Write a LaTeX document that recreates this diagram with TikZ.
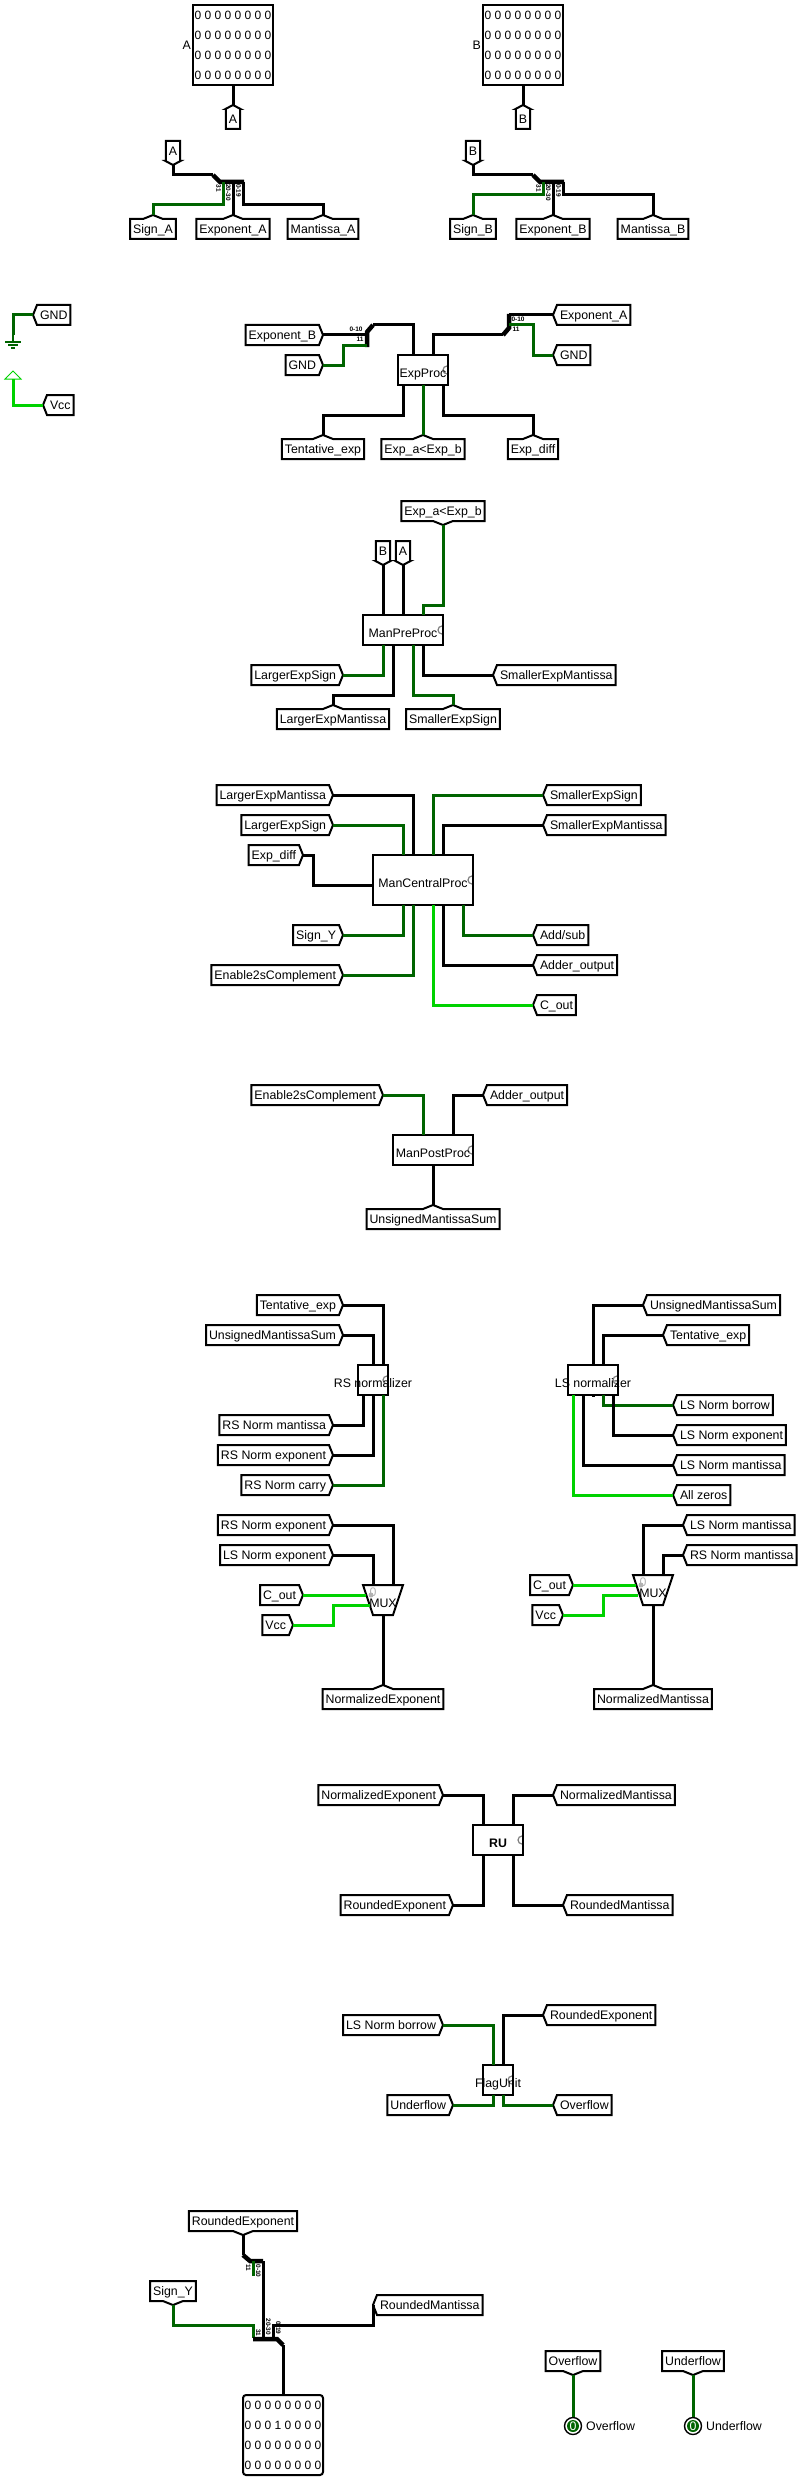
\documentclass[tikz,border=0pt]{standalone}
\usepackage{fontspec}
\setmainfont{Liberation Sans}
\usepackage{xcolor}
\usetikzlibrary{calc,positioning}
\definecolor{lowgreen}{RGB}{0,100,0}
\definecolor{highgreen}{RGB}{0,210,0}
\newcommand{\blocktext}[1]{\raisebox{-7.3pt}[0pt][0pt]{\makebox[0pt]{#1}}}
\begin{document}
\begin{tikzpicture}[
  x=1pt, y=-1pt,
  font=\fontsize{12.35}{14}\selectfont,
  tunline/.style={draw=black, line width=2pt},
  tunbase/.style={inner sep=0pt, inner xsep=3pt, outer sep=0pt, minimum height=20pt, text height=8.6pt, text depth=0pt},
  tunE/.style={tunbase, outer xsep=4pt, anchor=east, append after command={\pgfextra{\draw[tunline] ([xshift=4pt]\tikzlastnode.north west) -- ([xshift=-4pt]\tikzlastnode.north east) -- (\tikzlastnode.east) -- ([xshift=-4pt]\tikzlastnode.south east) -- ([xshift=4pt]\tikzlastnode.south west) -- cycle;}}},
  tunW/.style={tunbase, outer xsep=4pt, anchor=west, append after command={\pgfextra{\draw[tunline] ([xshift=-4pt]\tikzlastnode.north east) -- ([xshift=4pt]\tikzlastnode.north west) -- (\tikzlastnode.west) -- ([xshift=4pt]\tikzlastnode.south west) -- ([xshift=-4pt]\tikzlastnode.south east) -- cycle;}}},
  tunN/.default=10pt,
  tunN/.style={tunbase, outer ysep=4pt, anchor=north, append after command={\pgfextra{\draw[tunline] ([yshift=-4pt]\tikzlastnode.north west) -- ([xshift=-#1,yshift=-4pt]\tikzlastnode.north) -- (\tikzlastnode.north) -- ([xshift=#1,yshift=-4pt]\tikzlastnode.north) -- ([yshift=-4pt]\tikzlastnode.north east) -- ([yshift=4pt]\tikzlastnode.south east) -- ([yshift=4pt]\tikzlastnode.south west) -- cycle;}}},
  tunS/.default=10pt,
  tunS/.style={tunbase, outer ysep=4pt, anchor=south, append after command={\pgfextra{\draw[tunline] ([yshift=4pt]\tikzlastnode.south west) -- ([xshift=-#1,yshift=4pt]\tikzlastnode.south) -- (\tikzlastnode.south) -- ([xshift=#1,yshift=4pt]\tikzlastnode.south) -- ([yshift=4pt]\tikzlastnode.south east) -- ([yshift=-4pt]\tikzlastnode.north east) -- ([yshift=-4pt]\tikzlastnode.north west) -- cycle;}}},
  block/.style={draw, line width=2pt, inner sep=0pt, outer sep=0pt, minimum height=30pt, append after command={\pgfextra{\draw[gray, line width=1.2pt] ([xshift=-1pt,yshift=4pt]\tikzlastnode.east) arc[start angle=90, end angle=270, radius=4pt];}}},
  muxblock/.style={inner sep=0pt, outer sep=0pt, minimum width=40pt, minimum height=30pt, append after command={\pgfextra{\draw[tunline] (\tikzlastnode.north west) -- (\tikzlastnode.north east) -- ([xshift=-10pt]\tikzlastnode.south east) -- ([xshift=10pt]\tikzlastnode.south west) -- cycle;}}},
  selmark/.style={inner sep=0pt, text=gray!60},
  pinbox/.style={draw, line width=2pt, minimum size=80pt, inner sep=0pt, outer sep=0pt, align=center, font=\fontsize{12}{20}\selectfont},
  led/.style={circle, fill=lowgreen, text=white, minimum size=12pt, inner sep=0pt, outer sep=3pt, append after command={\pgfextra{\draw[black, line width=1.4pt] (\tikzlastnode.center) circle[radius=8.5pt];}}},
  plain/.style={inner sep=0pt},
  bitlab/.style={inner sep=0pt, font=\fontsize{6.5}{7}\selectfont\bfseries},
  wire/.style={draw=black, line width=3pt},
  lowwire/.style={draw=lowgreen, line width=3pt},
  highwire/.style={draw=highgreen, line width=3pt},
  spine/.style={draw=black, line width=4.5pt}
]
\useasboundingbox (0,0) rectangle (799,2480);

\node[pinbox] (pina) at (233,45) {0 0 0 0 0 0 0 0\\0 0 0 0 0 0 0 0\\0 0 0 0 0 0 0 0\\0 0 0 0 0 0 0 0};
\node[plain, left=2pt of pina] (pinalab) {A};
\node[tunN=7.5pt, below=20pt of pina] (tunpa) {A};
\node[pinbox] (pinb) at (523,45) {0 0 0 0 0 0 0 0\\0 0 0 0 0 0 0 0\\0 0 0 0 0 0 0 0\\0 0 0 0 0 0 0 0};
\node[plain, left=2pt of pinb] (pinblab) {B};
\node[tunN=7.5pt, below=20pt of pinb] (tunpb) {B};
\draw[wire] (pina) -- (tunpa.north);
\draw[wire] (pinb) -- (tunpb.north);

\coordinate (spa) at (213,175);
\node[tunS=7.5pt, left=40pt of spa, anchor=south, yshift=10pt] (tuna) {A};
\node[tunN, below=40pt of spa, xshift=-60pt] (signa) {Sign\_A};
\node[tunN, below=40pt of spa, xshift=20pt] (expona) {Exponent\_A};
\node[tunN, below=40pt of spa, xshift=110pt] (manta) {Mantissa\_A};
\draw[wire] (tuna.south) |- (spa);
\draw[spine] (spa) -- ++(7,7) -- ++(24,0);
\draw[lowwire] (spa) ++(10,7) -- ++(0,23) -| (signa.north);
\draw[wire] (spa) ++(20,7) -- (expona.north);
\draw[wire] (spa) ++(30,7) -- ++(0,23) -| (manta.north);
\node[bitlab, rotate=-90] (la31) at ($(spa)+(5.6,13.3)$) {31};
\node[bitlab, rotate=-90] (la20) at ($(spa)+(15.4,17.7)$) {20-30};
\node[bitlab, rotate=-90] (la00) at ($(spa)+(25.5,15.7)$) {0-19};

\coordinate (spb) at (533,175);
\node[tunS=7.5pt, left=60pt of spb, anchor=south, yshift=10pt] (tunb) {B};
\node[tunN, below=40pt of spb, xshift=-60pt] (signb) {Sign\_B};
\node[tunN, below=40pt of spb, xshift=20pt] (exponb) {Exponent\_B};
\node[tunN, below=40pt of spb, xshift=120pt] (mantb) {Mantissa\_B};
\draw[wire] (tunb.south) |- (spb);
\draw[spine] (spb) -- ++(7,7) -- ++(24,0);
\draw[lowwire] (spb) ++(10,7) -- ++(0,13) -| (signb.north);
\draw[wire] (spb) ++(20,7) -- (exponb.north);
\draw[wire] (spb) ++(30,7) -- ++(0,13) -| (mantb.north);
\node[bitlab, rotate=-90] (lb31) at ($(spb)+(5.6,13.3)$) {31};
\node[bitlab, rotate=-90] (lb20) at ($(spb)+(15.4,17.7)$) {20-30};
\node[bitlab, rotate=-90] (lb00) at ($(spb)+(25.5,15.7)$) {0-19};

\coordinate (gndsym) at (13,335);
\coordinate (vccsym) at (13,379);
\node[tunW] (gnd0) at (33,315) {GND};
\node[tunW] (vcc0) at (43,405) {Vcc};
\draw[lowwire] (gnd0.west) -| (gndsym);
\draw[draw=lowgreen, line width=1.2pt] (gndsym) -- ++(0,7) ++(-8,0) -- ++(16,0) ++(-13,3) -- ++(10,0) ++(-7,3) -- ++(4,0);
\draw[highwire] (vcc0.west) -| (vccsym);
\draw[draw=highgreen, line width=1pt] (vccsym) ++(-8,0) -- ++(8,-8) -- ++(8,8) -- cycle;

\node[block, minimum width=50pt] (exp) at (423,370) {\blocktext{ExpProc}};
\node[tunE, left=100pt of exp.north, yshift=20pt] (expb) {Exponent\_B};
\node[tunE, left=100pt of exp.north, yshift=-10pt] (gnd1) {GND};
\node[tunW, right=130pt of exp.north, yshift=40pt] (expa) {Exponent\_A};
\node[tunW, right=130pt of exp.north] (gnd2) {GND};
\node[tunN, below=50pt of exp.south, xshift=-100pt] (tent) {Tentative\_exp};
\node[tunN, below=50pt of exp.south] (lt) {Exp\_a<Exp\_b};
\node[tunN, below=50pt of exp.south, xshift=110pt] (diff) {Exp\_diff};
\coordinate (spl) at (373,325);
\coordinate (spr) at (503,335);
\draw[spine] (spl) -- ++(-6,7) -- ++(0,15);
\draw[wire] (spl) -| ([xshift=-10pt]exp.north);
\draw[wire] (expb.east) -- ++(44,0);
\draw[lowwire] (gnd1.east) -- ++(20,0) -- ++(0,-20) -- ++(24,0);
\draw[spine] (spr) -- ++(6,-7) -- ++(0,-14);
\draw[wire] (spr) -| ([xshift=10pt]exp.north);
\draw[wire] (expa.west) -- ++(-44,0);
\draw[lowwire] (gnd2.west) -- ++(-20,0) -- ++(0,-30) -- ++(-24,0);
\draw[wire] ([xshift=-20pt]exp.south) -- ++(0,30) -| (tent.north);
\draw[lowwire] (exp.south) -- (lt.north);
\draw[wire] ([xshift=20pt]exp.south) -- ++(0,30) -| (diff.north);
\node[bitlab] (ll00) at ($(spl)+(-17,4.3)$) {0-10};
\node[bitlab] (ll11) at ($(spl)+(-13,14.3)$) {11};
\node[bitlab] (lr00) at ($(spr)+(15,-15.7)$) {0-10};
\node[bitlab] (lr11) at ($(spr)+(13,-6)$) {11};

\node[block, minimum width=80pt] (pre) at (403,630) {\blocktext{ManPreProc}};
\node[tunS, above=90pt of pre.north, xshift=40pt] (ltp) {Exp\_a<Exp\_b};
\node[tunS=7.5pt, above=50pt of pre.north, xshift=-20pt] (bp) {B};
\node[tunS=7.5pt, above=50pt of pre.north] (ap) {A};
\node[tunE, left=60pt of pre.south, yshift=-30pt] (les) {LargerExpSign};
\node[tunN, below=60pt of pre.south, xshift=-70pt] (lem) {LargerExpMantissa};
\node[tunN, below=60pt of pre.south, xshift=50pt] (ses) {SmallerExpSign};
\node[tunW, right=90pt of pre.south, yshift=-30pt] (sem) {SmallerExpMantissa};
\draw[lowwire] (ltp.south) -- ++(0,80) -| ([xshift=20pt]pre.north);
\draw[wire] (bp.south) -- ([xshift=-20pt]pre.north);
\draw[wire] (ap.south) -- (pre.north);
\draw[lowwire] ([xshift=-20pt]pre.south) |- (les.east);
\draw[wire] ([xshift=-10pt]pre.south) -- ++(0,50) -| (lem.north);
\draw[lowwire] ([xshift=10pt]pre.south) -- ++(0,50) -| (ses.north);
\draw[wire] ([xshift=20pt]pre.south) |- (sem.west);

\node[block, minimum width=100pt, minimum height=50pt] (cen) at (423,880) {\blocktext{ManCentralProc}};
\node[tunE, left=90pt of cen.north, yshift=60pt] (lem2) {LargerExpMantissa};
\node[tunE, left=90pt of cen.north, yshift=30pt] (les2) {LargerExpSign};
\node[tunE, left=120pt of cen.north] (edf) {Exp\_diff};
\node[tunW, right=120pt of cen.north, yshift=60pt] (ses2) {SmallerExpSign};
\node[tunW, right=120pt of cen.north, yshift=30pt] (sem2) {SmallerExpMantissa};
\node[tunE, left=80pt of cen.south, yshift=-30pt] (sgy) {Sign\_Y};
\node[tunE, left=80pt of cen.south, yshift=-70pt] (en2) {Enable2sComplement};
\node[tunW, right=110pt of cen.south, yshift=-30pt] (ads) {Add/sub};
\node[tunW, right=110pt of cen.south, yshift=-60pt] (ado) {Adder\_output};
\node[tunW, right=110pt of cen.south, yshift=-100pt] (cot) {C\_out};
\draw[wire] (lem2.east) -| ([xshift=-10pt]cen.north);
\draw[lowwire] (les2.east) -| ([xshift=-20pt]cen.north);
\draw[wire] (edf.east) -- ++(10,0) |- ([yshift=-5pt]cen.west);
\draw[lowwire] (ses2.west) -| ([xshift=10pt]cen.north);
\draw[wire] (sem2.west) -| ([xshift=20pt]cen.north);
\draw[lowwire] ([xshift=-20pt]cen.south) |- (sgy.east);
\draw[lowwire] ([xshift=-10pt]cen.south) |- (en2.east);
\draw[lowwire] ([xshift=40pt]cen.south) |- (ads.west);
\draw[wire] ([xshift=20pt]cen.south) |- (ado.west);
\draw[highwire] ([xshift=10pt]cen.south) |- (cot.west);

\node[block, minimum width=80pt] (pst) at (433,1150) {\blocktext{ManPostProc}};
\node[tunE, left=50pt of pst.north, yshift=40pt] (en3) {Enable2sComplement};
\node[tunW, right=50pt of pst.north, yshift=40pt] (ado2) {Adder\_output};
\node[tunN, below=40pt of pst.south] (ums) {UnsignedMantissaSum};
\draw[lowwire] (en3.east) -| ([xshift=-10pt]pst.north);
\draw[wire] (ado2.west) -| ([xshift=20pt]pst.north);
\draw[wire] (pst.south) -- (ums.north);

\node[block, minimum width=30pt] (rsn) at (373,1380) {\blocktext{RS normalizer}};
\node[tunE, left=30pt of rsn.north, yshift=60pt] (tn1) {Tentative\_exp};
\node[tunE, left=30pt of rsn.north, yshift=30pt] (um1) {UnsignedMantissaSum};
\node[tunE, left=40pt of rsn.south, yshift=-30pt] (rsm) {RS Norm mantissa};
\node[tunE, left=40pt of rsn.south, yshift=-60pt] (rse) {RS Norm exponent};
\node[tunE, left=40pt of rsn.south, yshift=-90pt] (rsc) {RS Norm carry};
\draw[wire] (tn1.east) -| ([xshift=10pt]rsn.north);
\draw[wire] (um1.east) -| (rsn.north);
\draw[wire] ([xshift=-10pt]rsn.south) |- (rsm.east);
\draw[wire] (rsn.south) |- (rse.east);
\draw[lowwire] ([xshift=10pt]rsn.south) |- (rsc.east);

\node[muxblock] (mxe) at (383,1600) {\blocktext{MUX}};
\node[selmark] (mze) at ($(mxe.center)+(-10,-8)$) {0};
\fill[gray!60] ($(mxe.center)+(-12,-5)$) circle[radius=2.5pt];
\node[tunE, left=50pt of mxe.north, yshift=60pt] (rn2) {RS Norm exponent};
\node[tunE, left=50pt of mxe.north, yshift=30pt] (ln2) {LS Norm exponent};
\node[tunE, left=80pt of mxe.north, yshift=-10pt] (co2) {C\_out};
\node[tunE, left=90pt of mxe.north, yshift=-40pt] (vc2) {Vcc};
\node[tunN, below=70pt of mxe.south] (nxe) {NormalizedExponent};
\draw[wire] (rn2.east) -| ([xshift=10pt]mxe.north);
\draw[wire] (ln2.east) -| ([xshift=-10pt]mxe.north);
\draw[highwire] (co2.east) -- ++(63,0);
\draw[highwire] (vc2.east) -- ++(40,0) -- ++(0,-20) -- ++(37,0);
\draw[wire] (mxe.south) -- (nxe.north);

\node[block, minimum width=50pt] (lsn) at (593,1380) {\blocktext{LS normalizer}};
\node[tunW, right=50pt of lsn.north, yshift=60pt] (um2) {UnsignedMantissaSum};
\node[tunW, right=70pt of lsn.north, yshift=30pt] (tn2) {Tentative\_exp};
\node[tunW, right=80pt of lsn.south, yshift=-10pt] (lsb) {LS Norm borrow};
\node[tunW, right=80pt of lsn.south, yshift=-40pt] (lse) {LS Norm exponent};
\node[tunW, right=80pt of lsn.south, yshift=-70pt] (lsm) {LS Norm mantissa};
\node[tunW, right=80pt of lsn.south, yshift=-100pt] (alz) {All zeros};
\draw[wire] (um2.west) -| (lsn.north);
\draw[wire] (tn2.west) -| ([xshift=10pt]lsn.north);
\draw[lowwire] ([xshift=10pt]lsn.south) |- (lsb.west);
\draw[wire] ([xshift=20pt]lsn.south) |- (lse.west);
\draw[wire] ([xshift=-10pt]lsn.south) |- (lsm.west);
\draw[highwire] ([xshift=-20pt]lsn.south) |- (alz.west);
\draw[wire] (lsn.south) -- ++(0,2);

\node[muxblock] (mxm) at (653,1590) {\blocktext{MUX}};
\node[selmark] (mzm) at ($(mxm.center)+(-10,-8)$) {0};
\fill[gray!60] ($(mxm.center)+(-12,-5)$) circle[radius=2.5pt];
\node[tunW, right=30pt of mxm.north, yshift=50pt] (lm2) {LS Norm mantissa};
\node[tunW, right=30pt of mxm.north, yshift=20pt] (rm2) {RS Norm mantissa};
\node[tunE, left=80pt of mxm.north, yshift=-10pt] (co3) {C\_out};
\node[tunE, left=90pt of mxm.north, yshift=-40pt] (vc3) {Vcc};
\node[tunN, below=80pt of mxm.south] (nxm) {NormalizedMantissa};
\draw[wire] (lm2.west) -| ([xshift=-10pt]mxm.north);
\draw[wire] (rm2.west) -| ([xshift=10pt]mxm.north);
\draw[highwire] (co3.east) -- ++(63,0);
\draw[highwire] (vc3.east) -- ++(40,0) -- ++(0,-20) -- ++(35,0);
\draw[wire] (mxm.south) -- (nxm.north);

\node[block, minimum width=50pt] (rnd) at (498,1840) {\blocktext{\bfseries RU}};
\node[tunE, left=55pt of rnd.north, yshift=30pt] (nxe2) {NormalizedExponent};
\node[tunW, right=55pt of rnd.north, yshift=30pt] (nxm2) {NormalizedMantissa};
\node[tunE, left=45pt of rnd.south, yshift=-50pt] (rde) {RoundedExponent};
\node[tunW, right=65pt of rnd.south, yshift=-50pt] (rdm) {RoundedMantissa};
\draw[wire] (nxe2.east) -| ([xshift=-15pt]rnd.north);
\draw[wire] (nxm2.west) -| ([xshift=15pt]rnd.north);
\draw[wire] ([xshift=-15pt]rnd.south) |- (rde.east);
\draw[wire] ([xshift=15pt]rnd.south) |- (rdm.west);

\node[block, minimum width=30pt] (flg) at (498,2080) {\blocktext{FlagUnit}};
\node[tunE, left=55pt of flg.north, yshift=40pt] (lbw) {LS Norm borrow};
\node[tunW, right=45pt of flg.north, yshift=50pt] (rde2) {RoundedExponent};
\node[tunE, left=45pt of flg.south, yshift=-10pt] (unf) {Underflow};
\node[tunW, right=55pt of flg.south, yshift=-10pt] (ovf) {Overflow};
\draw[lowwire] (lbw.east) -| ([xshift=-5pt]flg.north);
\draw[wire] (rde2.west) -| ([xshift=5pt]flg.north);
\draw[lowwire] ([xshift=-5pt]flg.south) |- (unf.east);
\draw[lowwire] ([xshift=5pt]flg.south) |- (ovf.west);

\coordinate (spx) at (283,2345);
\coordinate (spe) at (243,2255);
\node[pinbox, rounded corners=3pt] (pout) at (283,2435) {0 0 0 0 0 0 0 0\\0 0 0 1 0 0 0 0\\0 0 0 0 0 0 0 0\\0 0 0 0 0 0 0 0};
\node[tunS, above=110pt of spx, xshift=-40pt] (rde3) {RoundedExponent};
\node[tunS, above=40pt of spx, xshift=-110pt] (sgy2) {Sign\_Y};
\node[tunW, right=90pt of spx, yshift=40pt] (rdm2) {RoundedMantissa};
\draw[wire] (rde3.south) -- (spe);
\draw[spine] (spe) -- ++(7,6) -- ++(13,0);
\draw[lowwire] (spe) ++(10,6) -- ++(0,15);
\draw[wire] (spe) ++(20,6) -- ++(0,78);
\draw[lowwire] (sgy2.south) -- ++(0,20) -- ++(80,0) -- ++(0,13);
\draw[wire] (rdm2.west) -- ++(0,20) -- ++(-100,0) -- ++(0,13);
\draw[spine] (spx) -- ++(-6,-6) -- ++(-24,0);
\draw[wire] (spx) -- (pout.north);
\node[bitlab, rotate=-90] (le11) at ($(spe)+(5.3,13)$) {11};
\node[bitlab, rotate=-90] (le00) at ($(spe)+(15.3,16)$) {0-10};
\node[bitlab, rotate=-90] (lx31) at ($(spx)+(-24.7,-12.3)$) {31};
\node[bitlab, rotate=-90] (lx20) at ($(spx)+(-14.7,-18.3)$) {20-30};
\node[bitlab, rotate=-90] (lx00) at ($(spx)+(-4.7,-17)$) {0-19};

\node[tunS] (ovt) at (573,2375) {Overflow};
\node[tunS] (unt) at (693,2375) {Underflow};
\node[led, below=42pt of ovt.south] (ledo) {0};
\node[led, below=42pt of unt.south] (ledu) {0};
\node[plain, right=4pt of ledo] (ledolab) {Overflow};
\node[plain, right=4pt of ledu] (ledulab) {Underflow};
\draw[lowwire] (ovt.south) -- (ledo.north);
\draw[lowwire] (unt.south) -- (ledu.north);
\end{tikzpicture}
\end{document}
